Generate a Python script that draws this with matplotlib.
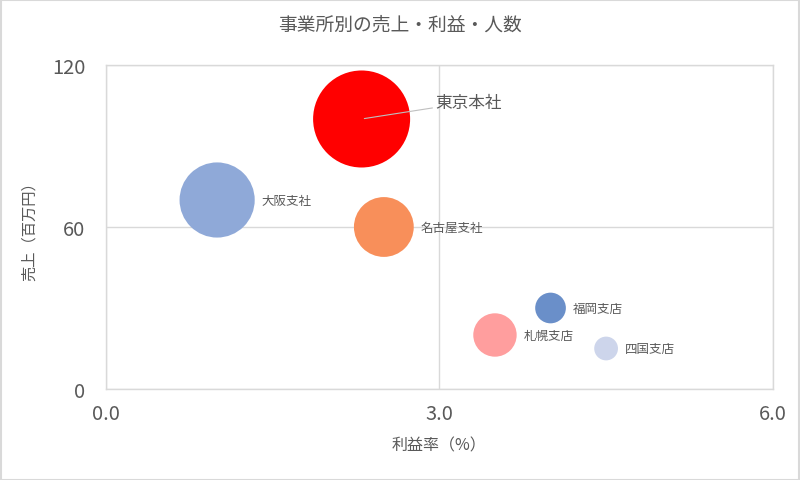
import matplotlib
matplotlib.use("Agg")
import matplotlib.pyplot as plt
from matplotlib.patches import Rectangle

plt.rcParams['font.family'] = ['Noto Sans CJK JP', 'DejaVu Sans']

# Data
names = ["東京本社", "大阪支社", "名古屋支社", "福岡支店", "札幌支店", "四国支店"]
profit_rate = [2.3, 1.0, 2.5, 4.0, 3.5, 4.5]
sales = [100, 70, 60, 30, 20, 15]
people = [100, 60, 38, 10, 20, 6]
colors = ["#FF0000", "#8FA9D8", "#F88F5A", "#6A8FC9", "#FF9E9E", "#CDD5EB"]

title = "事業所別の売上・利益・人数"
xlabel = "利益率（%）"
ylabel = "売上（百万円）"
xticks = [0.0, 3.0, 6.0]
yticks = [0, 60, 120]

txt = "#595959"
grid = "#D9D9D9"

fig = plt.figure(figsize=(8, 4.81), dpi=100)
ax = fig.add_axes([0.1325, 0.1892, 0.966 - 0.1325, 0.8628 - 0.1892])

scale = 48.8
ax.scatter(profit_rate, sales, s=[p * scale for p in people], c=colors,
           edgecolors="none", zorder=3)

ax.set_xlim(0, 6)
ax.set_ylim(0, 120)
ax.set_xticks(xticks)
ax.set_xticklabels([f"{v:.1f}" for v in xticks])
ax.set_yticks(yticks)
ax.set_yticklabels([str(v) for v in yticks])
ax.tick_params(length=0, labelsize=14.5, colors=txt)
ax.tick_params(axis='x', pad=10)
ax.tick_params(axis='y', pad=15)
ax.grid(True, color=grid, linewidth=1, zorder=0)
for sp in ax.spines.values():
    sp.set_color(grid)
    sp.set_linewidth(1)

ax.set_xlabel(xlabel, fontsize=11.5, color=txt, labelpad=9)
ax.set_ylabel(ylabel, fontsize=11, color=txt, labelpad=10)
fig.text(0.5, 1 - 25 / 481, title, ha="center", va="center", fontsize=13.5, color=txt)

# Data labels
for i, n in enumerate(names):
    if i == 0:
        ax.annotate(n, xy=(profit_rate[i], sales[i]), xytext=(53, 12),
                    textcoords="offset points", fontsize=12, color=txt,
                    va="center", ha="left",
                    arrowprops=dict(arrowstyle="-", color="#BFBFBF", lw=0.8,
                                    shrinkA=0, shrinkB=2),
                    zorder=5)
    else:
        r_pt = ((people[i] * scale) ** 0.5) / 2
        ax.annotate(n, xy=(profit_rate[i], sales[i]), xytext=(r_pt + 5, 0),
                    textcoords="offset points", fontsize=9, color=txt,
                    va="center", ha="left", zorder=5)

fig.patches.append(Rectangle((0.001, 0.001), 0.998, 0.997, transform=fig.transFigure,
                             fill=False, edgecolor=grid, linewidth=1.5))

fig.savefig("out.png", dpi=100)
